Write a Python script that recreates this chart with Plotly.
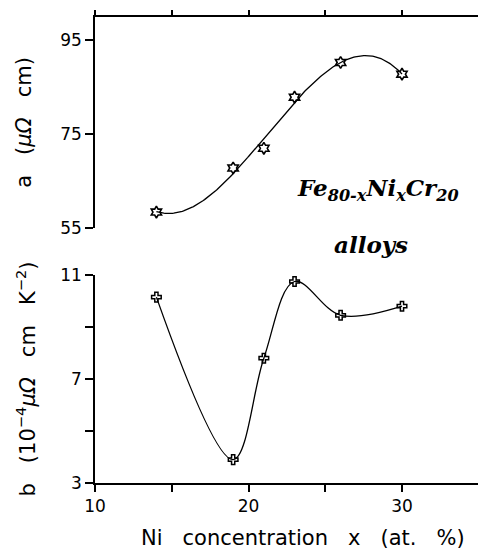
import numpy as np
import plotly.graph_objects as go

# Ni concentration (at. %)
ni_x = [14, 19, 21, 23, 26, 30]
# residual-resistivity coefficient a (μΩ cm)
a_vals = [58.4, 67.8, 72.0, 82.9, 90.3, 87.8]
# coefficient b (10^-4 μΩ cm K^-2)
b_vals = [10.15, 3.9, 7.8, 10.75, 9.45, 9.8]

x_tickvals = [10, 15, 20, 25, 30]
x_ticktext = ["10", "", "20", "", "30"]
a_tickvals = [55, 75, 95]
b_tickvals = [3, 5, 7, 9, 11]
b_ticktext = ["3", "", "7", "", "11"]

FONT = "DejaVu Sans"
SERIF = "DejaVu Serif"
SP = "&nbsp;&nbsp;&nbsp;"

# smooth cubic least-squares curve through the a(x) points
coef = np.polyfit(ni_x, a_vals, 3)
x_fit = np.linspace(min(ni_x), max(ni_x), 200)
a_fit = np.polyval(coef, x_fit)

fig = go.Figure()

fig.add_trace(go.Scatter(
    x=x_fit, y=a_fit, mode="lines",
    line=dict(color="black", width=1.3),
    xaxis="x2", yaxis="y2", showlegend=False, hoverinfo="skip",
))
fig.add_trace(go.Scatter(
    x=ni_x, y=a_vals, mode="markers",
    marker=dict(symbol="hexagram-open", size=9, color="black", line=dict(width=1.6)),
    xaxis="x2", yaxis="y2", showlegend=False,
))
fig.add_trace(go.Scatter(
    x=ni_x, y=b_vals, mode="lines+markers",
    line=dict(color="black", width=1.3, shape="spline", smoothing=1.0),
    marker=dict(symbol="cross-open", size=8, color="black", line=dict(width=1.5)),
    xaxis="x", yaxis="y", showlegend=False,
))

xr = [10, 10 + 383 / 15.35]
title_font = dict(family=FONT, size=21, color="black")
axis_common = dict(showline=True, linecolor="black", linewidth=1.5, ticks="outside",
                   tickcolor="black", tickwidth=1.5, showgrid=False, zeroline=False,
                   tickfont=dict(family=FONT, size=17, color="black"))

fig.update_layout(
    width=478, height=554,
    margin=dict(l=95, r=0, t=17, b=71),
    paper_bgcolor="white", plot_bgcolor="white",
    xaxis=dict(range=xr, domain=[0, 1], anchor="y", tickvals=x_tickvals, ticktext=x_ticktext,
               ticklen=7, **axis_common),
    yaxis=dict(range=[3, 11], domain=[0, 208 / 466], anchor="x", tickvals=b_tickvals,
               ticktext=b_ticktext, ticklen=8,
               title=dict(text=f"b{SP}(10<sup>−4</sup><i>μΩ</i>{SP}cm{SP}K<sup>−2</sup>)",
                          standoff=19, font=title_font),
               **axis_common),
    xaxis2=dict(range=xr, domain=[0, 1], anchor="y2", side="top", tickvals=x_tickvals,
                showticklabels=False, ticklen=5, **axis_common),
    yaxis2=dict(range=[55, 100], domain=[255 / 466, 1], anchor="x2", tickvals=a_tickvals,
                ticklen=8,
                title=dict(text=f"a{SP}(<i>μΩ</i>{SP}cm)", standoff=23, font=title_font),
                **axis_common),
)

# x-axis title, placed slightly right of the plot centre
fig.add_annotation(
    x=0.543, y=-0.118, xref="paper", yref="paper", showarrow=False,
    xanchor="center", yanchor="middle",
    text=f"Ni{SP}concentration{SP}x{SP}(at.{SP}%)",
    font=title_font,
)
fig.add_annotation(
    x=0.738, y=0.629, xref="paper", yref="paper", showarrow=False,
    xanchor="center", yanchor="middle",
    text="<b><i>Fe<sub>80-x</sub>Ni<sub>x</sub>Cr<sub>20</sub></i></b>",
    font=dict(family=SERIF, size=23, color="black"),
)
fig.add_annotation(
    x=0.72, y=0.511, xref="paper", yref="paper", showarrow=False,
    xanchor="center", yanchor="middle",
    text="<b><i>alloys</i></b>",
    font=dict(family=SERIF, size=23, color="black"),
)

fig.write_html("out.html")
